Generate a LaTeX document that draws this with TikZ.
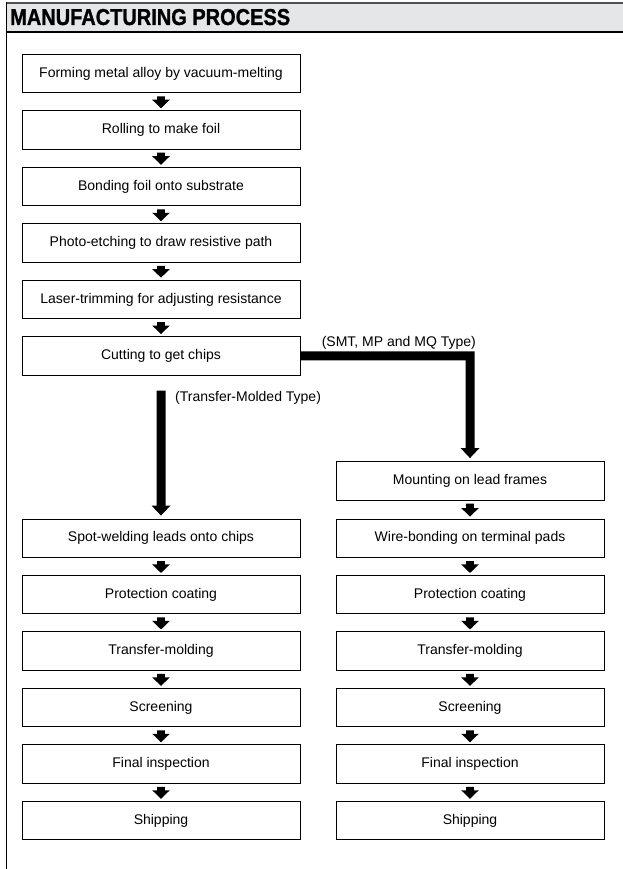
\documentclass[tikz,border=0pt]{standalone}
\usepackage{fontspec}
\setmainfont{Liberation Sans}
\newfontfamily\hdrfont[FakeBold=1.2]{Liberation Sans Bold}
\usetikzlibrary{calc}
\definecolor{hdrfill}{HTML}{E5E6E8}
\definecolor{hdrtop}{HTML}{505050}
\begin{document}
\begin{tikzpicture}[x=1pt,y=-1pt,
  stepbox/.style={draw, line width=1pt, minimum height=38.5pt, inner sep=0pt,
    font=\fontsize{14}{16}\selectfont},
  lbox/.style={stepbox, minimum width=278pt},
  rbox/.style={stepbox, minimum width=268pt},
  lbl/.style={inner sep=0pt, font=\fontsize{14}{16}\selectfont},
  fatarrow/.style args={#1/#2/#3}{to path={let \p1=(\tikztostart), \p2=(\tikztotarget) in
    (\x1-#1,\y1) -- (\x1-#1,\y2+#3) -- (\x1-#2,\y2+#3) -- (\x2,\y2) --
    (\x1+#2,\y2+#3) -- (\x1+#1,\y2+#3) -- (\x1+#1,\y1) -- cycle}},
  small/.style={fatarrow=3.8pt/8.8pt/8.5pt},
  big/.style={fatarrow=4.5pt/9.5pt/10pt}
]
\useasboundingbox (0,0) rectangle (623,869);
% header
\fill[hdrfill] (6,3) rectangle (623,32);
\draw[hdrtop, line width=2pt] (6,3) -- (623,3);
\draw[line width=1.6pt] (6,32) -- (623,32);
\draw[line width=1pt] (6,2) -- (6,869);
\node[anchor=base west, inner sep=0pt, font=\hdrfont\fontsize{20}{20}\selectfont, yscale=1.15] (title) at (10,25) {MANUFACTURING PROCESS};

% left column
\node[lbox] (b1) at (161,73.6) {Forming metal alloy by vacuum-melting};
\node[lbox] (b2) at (161,130) {Rolling to make foil};
\node[lbox] (b3) at (161,186.5) {Bonding foil onto substrate};
\node[lbox] (b4) at (161,243) {Photo-etching to draw resistive path};
\node[lbox] (b5) at (161,299.4) {Laser-trimming for adjusting resistance};
\node[lbox] (cut) at (161,355.8) {Cutting to get chips};

\node[lbox] (l1) at (161,538.3) {Spot-welding leads onto chips};
\node[lbox] (l2) at (161,594.7) {Protection coating};
\node[lbox] (l3) at (161,651.2) {Transfer-molding};
\node[lbox] (l4) at (161,707.6) {Screening};
\node[lbox] (l5) at (161,764) {Final inspection};
\node[lbox] (l6) at (161,820.5) {Shipping};

% right column
\node[rbox] (mount) at (470,480.8) {Mounting on lead frames};
\node[rbox] (r1) at (470,538.3) {Wire-bonding on terminal pads};
\node[rbox] (r2) at (470,594.7) {Protection coating};
\node[rbox] (r3) at (470,651.2) {Transfer-molding};
\node[rbox] (r4) at (470,707.6) {Screening};
\node[rbox] (r5) at (470,764) {Final inspection};
\node[rbox] (r6) at (470,820.5) {Shipping};

% small arrows
\foreach \a/\b in {b1/b2,b2/b3,b3/b4,b4/b5,b5/cut,l1/l2,l2/l3,l3/l4,l4/l5,l5/l6,mount/r1,r1/r2,r2/r3,r3/r4,r4/r5,r5/r6}{
  \fill ([yshift=-3pt]\a.south) to[small] ([yshift=2pt]\b.north);
}

% long arrow (transfer-molded)
\fill ([yshift=-15pt]cut.south) to[big] ([yshift=3pt]l1.north);
\node[lbl, anchor=base west] (tlabel) at (175,401) {(Transfer-Molded Type)};

% branch arrow (SMT, MP, MQ)
\fill let \p1=(cut.east), \p2=([yshift=3pt]mount.north) in
  (\x1,\y1+4.5pt) -- (\x2+4.5pt,\y1+4.5pt) -- (\x2+4.5pt,\y2+10pt) -- (\x2+9.5pt,\y2+10pt) --
  (\x2,\y2) -- (\x2-9.5pt,\y2+10pt) -- (\x2-4.5pt,\y2+10pt) -- (\x2-4.5pt,\y1-4.5pt) --
  (\x1,\y1-4.5pt) -- cycle;
\node[lbl, anchor=base east] (slabel) at (476,346.5) {(SMT, MP and MQ Type)};
\end{tikzpicture}
\end{document}
